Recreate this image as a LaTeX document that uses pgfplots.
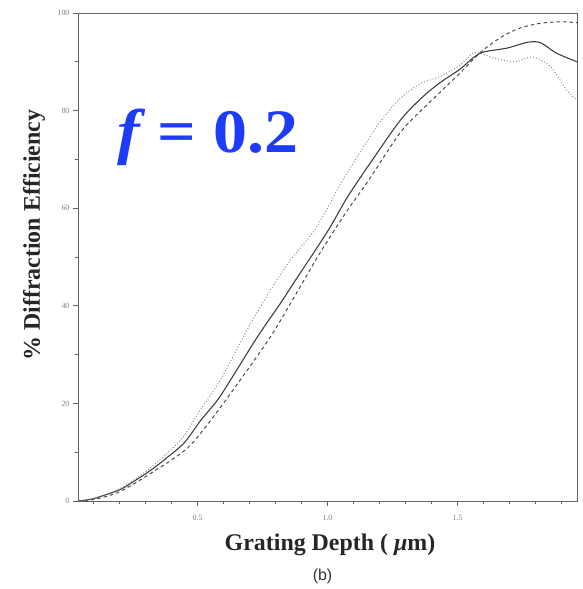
\documentclass[border=0pt]{standalone}
\usepackage{pgfplots}
\pgfplotsset{compat=1.18}
\usepackage{graphicx}
\usepackage{fontspec}
\setmainfont{Liberation Serif}
\newfontfamily\sansf{Liberation Sans}
\definecolor{fblue}{RGB}{28,60,250}
\definecolor{axgray}{RGB}{100,100,100}
\begin{document}
\begin{tikzpicture}
\path[use as bounding box] (-78bp,-88bp) rectangle (505bp,501bp);
\begin{axis}[
  at={(0,0)}, anchor=south west,
  scale only axis, width=499bp, height=488bp,
  xmin=0.04, xmax=1.96, ymin=0, ymax=100,
  xtick={0.5,1.0,1.5}, xticklabels={0.5,1.0,1.5},
  minor xtick={0.1,0.2,...,1.9},
  ytick={0,20,...,100}, minor ytick={10,30,50,70,90},
  axis line style={axgray, line width=0.9pt},
  tick style={axgray, line width=0.7pt},
  major tick length=5bp, minor tick length=3bp,
  tick align=outside,
  xtick pos=bottom, ytick pos=left,
  tick label style={font=\fontsize{8}{8}\selectfont, text=gray},
  /pgf/number format/assume math mode=true,
  x tick label style={yshift=-6bp},
  clip=false,
]
\addplot[smooth, tension=0.5, color=black!75, line width=1.1pt] coordinates {
(0.04,0) (0.1,0.5) (0.2,2.3) (0.254,4.0) (0.32,6.3) (0.385,9) (0.45,12) (0.512,16.5) (0.577,20.7) (0.627,24.8) (0.73,33.6) (0.82,40.6) (0.885,45.9) (0.946,50.8) (1.01,56.1) (1.077,62.3) (1.165,69.3) (1.28,78) (1.36,82.5) (1.43,85.6) (1.51,88.5) (1.56,90.8) (1.60,92) (1.69,92.8) (1.77,94) (1.82,93.9) (1.88,91.8) (1.96,90)
};
\addplot[smooth, tension=0.5, color=black!70, line width=1.0pt, dash pattern=on 3.5bp off 3bp] coordinates {
(0.04,0) (0.1,0.3) (0.2,1.9) (0.33,6.0) (0.46,10.8) (0.55,16.5) (0.64,23) (0.78,33.6) (0.885,43) (0.973,51) (1.077,59.6) (1.154,65.4) (1.28,75.5) (1.36,80) (1.43,83.6) (1.51,87.7) (1.59,92.0) (1.67,95.1) (1.74,96.9) (1.82,97.9) (1.90,98.2) (1.96,98)
};
\addplot[smooth, tension=0.5, color=black!45, line width=1.0pt, dash pattern=on 1bp off 2bp] coordinates {
(0.04,0) (0.1,0.5) (0.2,2.5) (0.31,6.4) (0.435,12.5) (0.51,18.6) (0.59,25) (0.69,35) (0.78,43.2) (0.858,49.4) (0.946,55.2) (1.01,61) (1.05,65) (1.12,71) (1.2,77.5) (1.28,82.5) (1.36,85.6) (1.43,86.9) (1.51,89.3) (1.56,91.8) (1.60,91.5) (1.64,90.8) (1.72,90) (1.79,91) (1.86,88.9) (1.92,84.2) (1.96,82.2)
};
\node[anchor=base, text=fblue, font=\fontsize{62}{62}\selectfont\bfseries] at (axis cs:0.54,71.5) {\scalebox{1.1}[1]{\itshape f\upshape\ = 0.2}};
\node[rotate=90, anchor=base, font=\fontsize{24}{24}\selectfont\bfseries, text=black!85] at ([xshift=-38bp]rel axis cs:0,0.545) {\% Diffraction Efficiency};
\node[anchor=base, font=\fontsize{24}{24}\selectfont\bfseries, text=black!85] at ([yshift=-49bp]rel axis cs:0.505,0) {Grating Depth ( \itshape μ\upshape m)};
\node[font=\fontsize{16}{16}\selectfont\sansf, text=black!80] at ([yshift=-75bp]rel axis cs:0.49,0) {(b)};
\end{axis}
\end{tikzpicture}
\end{document}
